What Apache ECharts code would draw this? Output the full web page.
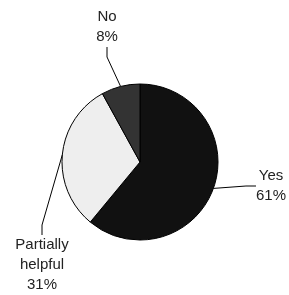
<!DOCTYPE html>
<html><head><meta charset="utf-8">
<script src="https://cdn.jsdelivr.net/npm/echarts@6/dist/echarts.min.js"></script>
<style>html,body{margin:0;padding:0;background:#fff}#c{width:289px;height:295px}</style>
</head><body><div id="c"></div>
<script>
const categories = ['Yes', 'Partially helpful', 'No'];
const values = [61, 31, 8];
const colors = ['#111111', '#eeeeee', '#333333'];
const labelPos = [[271, 186], [42, 265], [107, 27]];

const chart = echarts.init(document.getElementById('c'), null, {renderer: 'canvas'});
chart.setOption({
  animation: false,
  series: [{
    type: 'pie',
    center: [140, 162],
    radius: 78,
    startAngle: 90,
    clockwise: true,
    data: categories.map((c, i) => ({name: c, value: values[i], itemStyle: {color: colors[i]}})),
    itemStyle: {borderColor: '#000', borderWidth: 1},
    label: {
      show: true,
      formatter: p => p.name.replace(' ', '\n') + '\n' + Math.round(p.percent) + '%',
      fontFamily: 'Liberation Sans, Arial, sans-serif',
      fontSize: 15,
      lineHeight: 20,
      color: '#222',
      align: 'center',
      overflow: 'none'
    },
    labelLine: {show: true, length: 10, length2: 10, lineStyle: {color: '#000', width: 1}},
    labelLayout: function (params) {
      const p = labelPos[params.dataIndex];
      return {x: p[0], y: p[1], align: 'center', verticalAlign: 'middle', hideOverlap: false};
    }
  }]
});
</script></body></html>
